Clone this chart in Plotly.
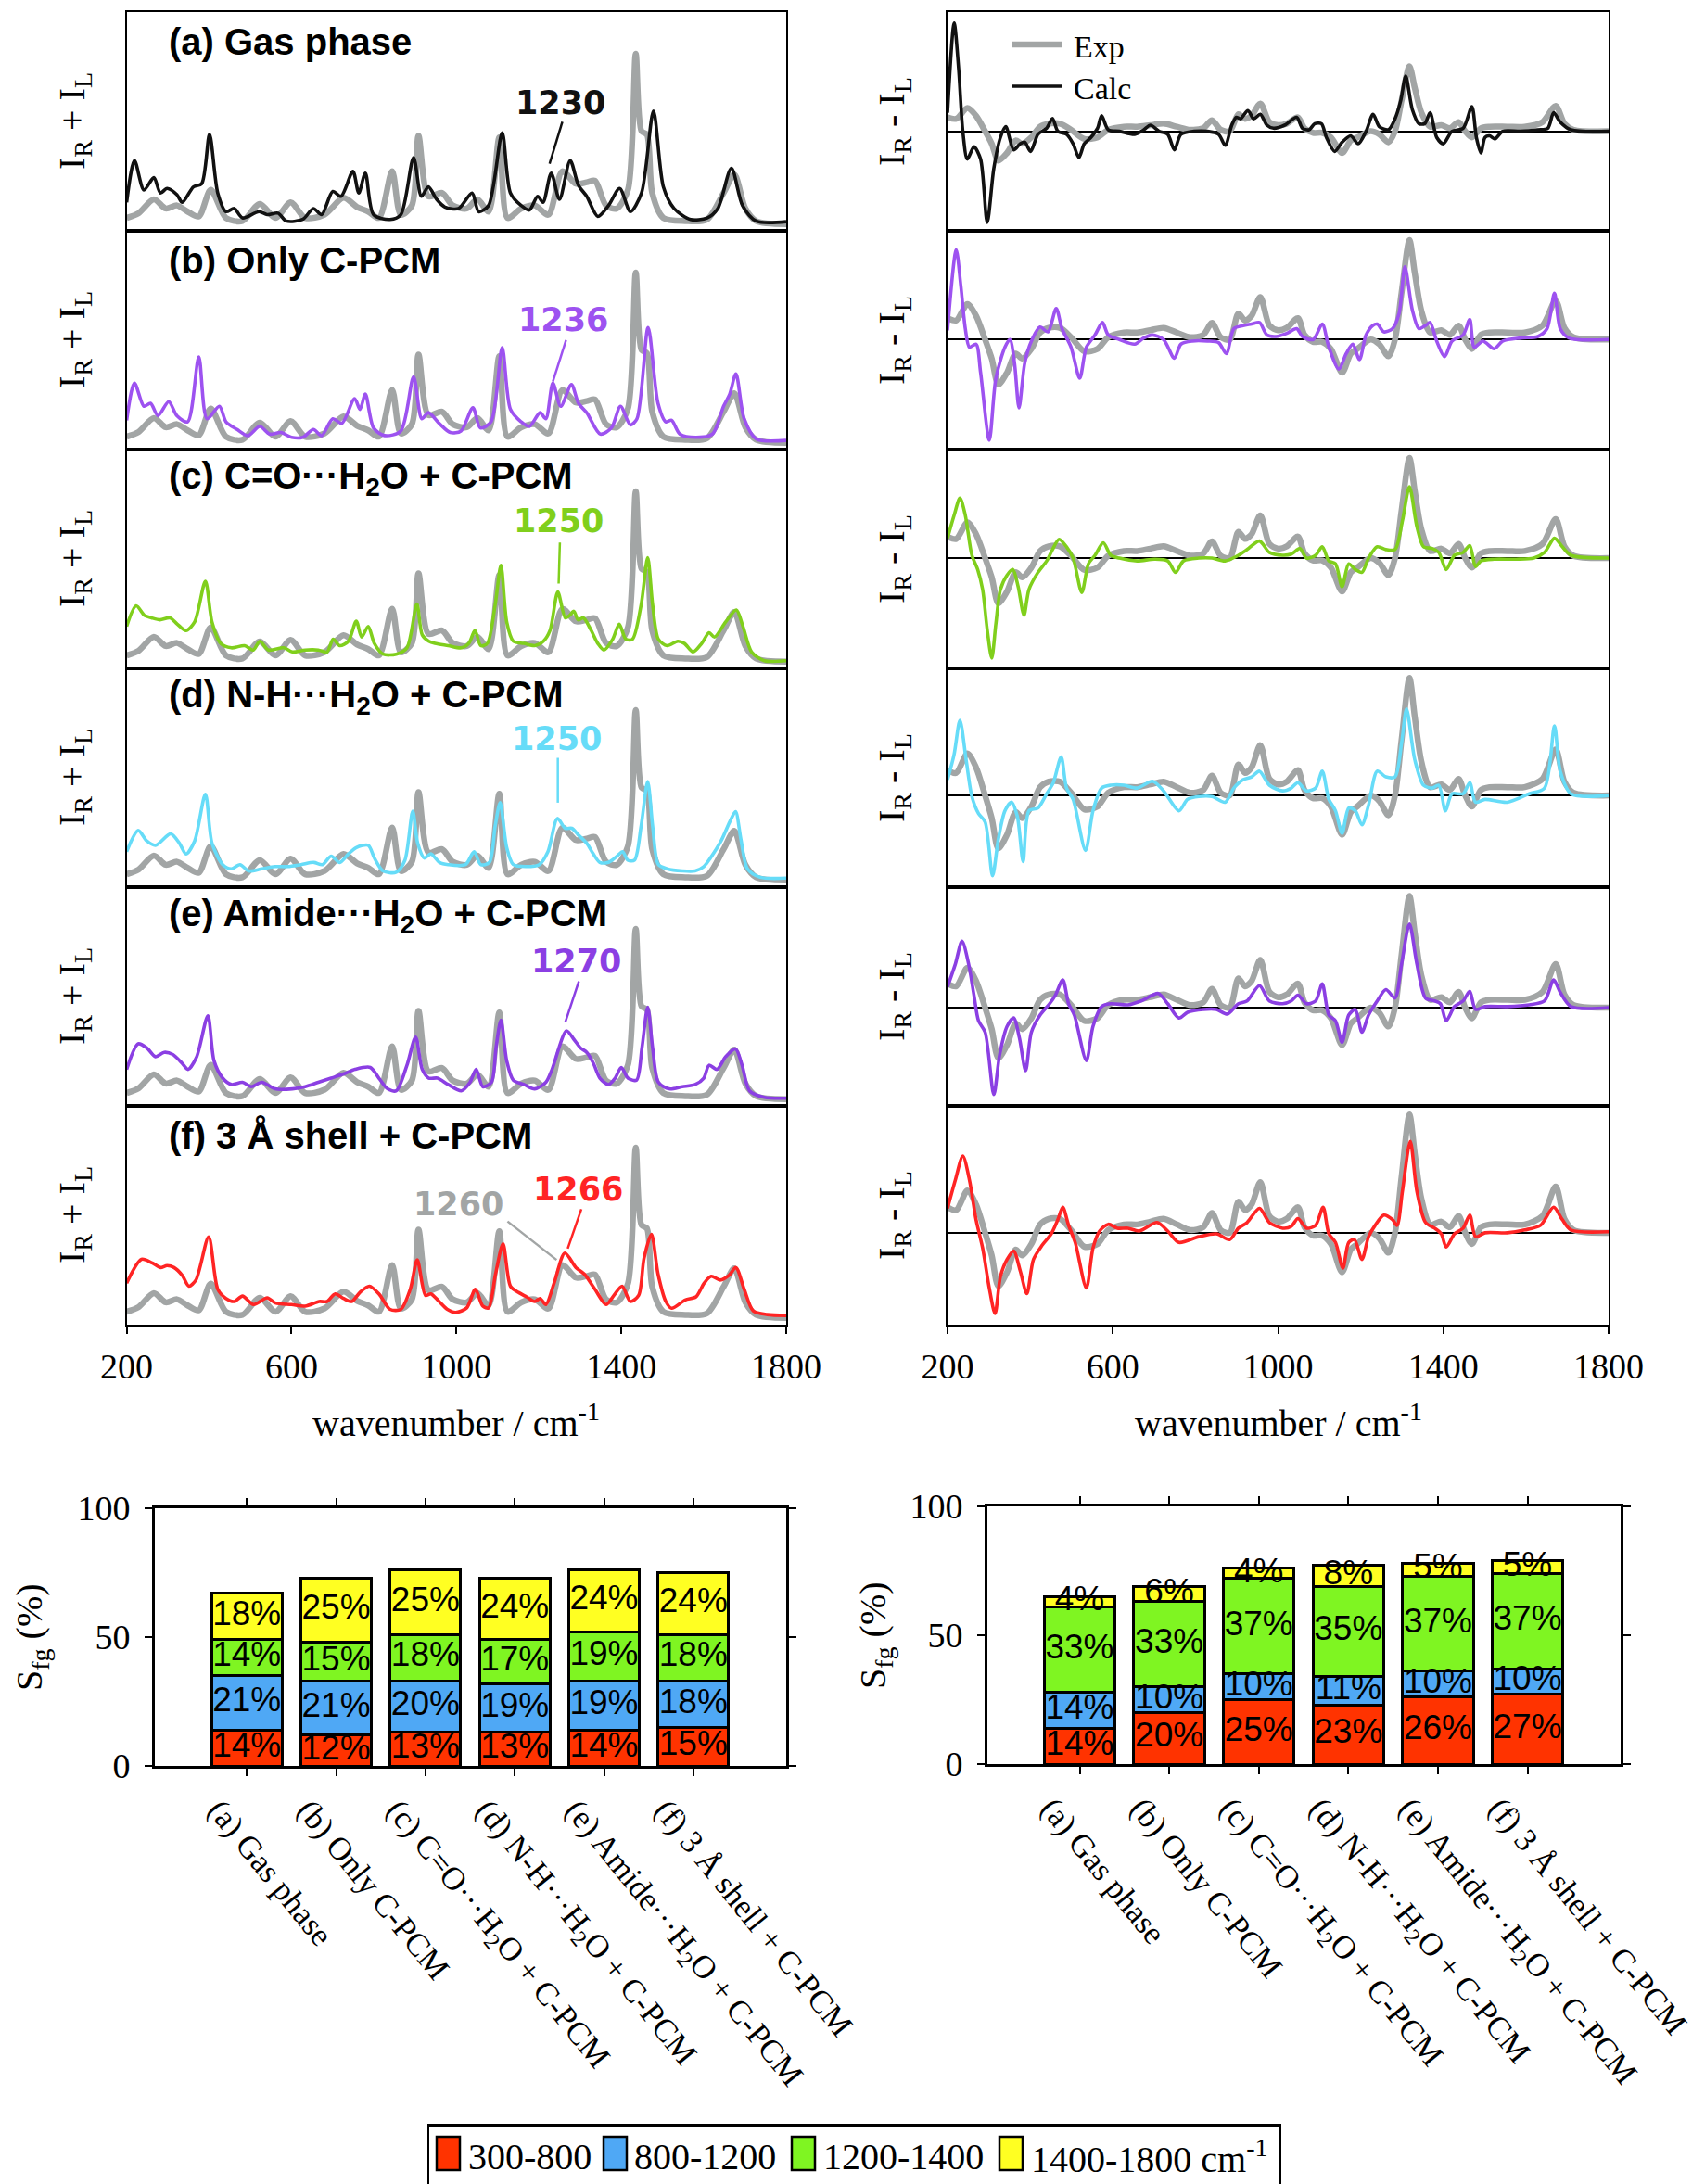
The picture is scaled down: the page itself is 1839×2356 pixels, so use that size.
import plotly.graph_objects as go

W, H = 1839, 2356

# ---------------- DATA ----------------
WAVENUMBER_TICKS = [200, 600, 1000, 1400, 1800]

# I_R + I_L, experimental (same in every left panel), (wavenumber, intensity a.u.)
EXP_SUM = [(200, 5.9), (229, 8.1), (266, 14.4), (295, 10.2), (322, 11.6), (348, 8.8), (375, 6.6),
           (404, 18.7), (441, 5.9), (481, 4.5), (523, 12.3), (561, 5.9), (598, 13.0), (633, 5.9),
           (680, 7.4), (726, 15.1), (759, 10.9), (786, 8.8), (812, 5.9), (844, 27.2),
           (865, 7.4), (892, 11.6), (908, 43.4), (932, 15.8), (965, 17.3),
           (991, 11.6), (1025, 10.2), (1051, 14.4), (1078, 8.8), (1104, 42.7),
           (1124, 5.9), (1157, 10.2), (1190, 11.6), (1223, 7.4), (1257, 27.2),
           (1290, 21.5), (1316, 22.2), (1336, 22.9), (1363, 11.6), (1389, 10.2), (1416, 18.7),
           (1435, 80.9), (1449, 45.5), (1462, 44.1), (1475, 17.3),
           (1502, 5.9), (1555, 4.5), (1608, 5.2), (1648, 17.3), (1674, 25.7), (1701, 10.2),
           (1727, 4.5), (1800, 3.1)]

CALC_SUM_A = [(200, 13.0), (219, 32.1), (242, 18.7), (266, 24.3), (282, 17.3), (298, 19.4), (322, 16.5),
              (335, 13.0), (362, 20.1), (382, 21.5), (401, 44.1), (421, 17.3), (441, 8.8), (461, 10.2),
              (481, 5.9), (521, 8.8), (541, 7.4), (567, 8.1), (587, 4.5), (627, 5.2), (653, 10.2),
              (673, 7.4), (700, 18.0), (720, 15.8), (749, 27.2), (763, 17.3), (779, 26.4), (799, 7.4),
              (839, 5.2), (865, 7.4), (896, 33.5), (915, 15.8), (932, 20.1), (952, 14.4), (972, 10.9),
              (1005, 10.2), (1038, 17.3), (1054, 8.8), (1078, 11.6), (1111, 44.8), (1131, 17.3),
              (1157, 11.6), (1177, 9.5), (1197, 15.8), (1210, 13.0), (1230, 26.4), (1250, 14.4),
              (1276, 32.1), (1296, 20.8), (1316, 15.8), (1343, 6.6), (1369, 11.6), (1396, 19.4),
              (1422, 8.8), (1449, 17.3), (1478, 54.7), (1502, 20.1), (1528, 10.2), (1568, 5.2),
              (1608, 5.9), (1634, 10.2), (1667, 28.6), (1694, 11.6), (1727, 4.5), (1800, 4.2)]

CALC_SUM_B = [(200, 13.4), (219, 30.4), (242, 19.8), (258, 21.2), (276, 15.5), (302, 21.9), (322, 15.5),
              (348, 12.7), (375, 42.4), (395, 14.1), (425, 19.8), (441, 12.7), (468, 9.2), (494, 6.4),
              (523, 10.6), (547, 7.1), (574, 7.8), (600, 5.6), (627, 5.6), (653, 9.2), (673, 6.4),
              (700, 14.1), (722, 12.0), (753, 23.3), (766, 18.4), (779, 25.4), (799, 9.9), (826, 6.4),
              (865, 8.5), (896, 33.2), (916, 14.1), (932, 16.9), (958, 12.0), (985, 7.8), (1011, 8.5),
              (1040, 19.1), (1058, 9.9), (1084, 12.7), (1111, 46.6), (1131, 18.4), (1157, 12.7),
              (1177, 10.6), (1203, 16.9), (1217, 14.1), (1234, 30.4), (1253, 19.8), (1279, 29.7),
              (1296, 21.2), (1316, 16.9), (1349, 7.1), (1376, 9.9), (1398, 19.8), (1422, 11.3),
              (1438, 14.1), (1465, 55.8), (1489, 21.2), (1508, 12.7), (1522, 13.4), (1542, 7.1),
              (1581, 5.6), (1621, 7.1), (1648, 19.8), (1663, 25.4), (1678, 34.6), (1698, 14.1),
              (1727, 4.9), (1800, 4.2)]

CALC_SUM_C = [(200, 19.2), (223, 28.6), (244, 24.1), (260, 23.1), (281, 22.2), (305, 23.1), (323, 20.2),
              (344, 17.3), (365, 21.2), (391, 39.8), (407, 21.2), (428, 11.4), (454, 9.4), (486, 10.4),
              (507, 8.4), (523, 12.4), (544, 8.4), (581, 9.4), (602, 7.5), (633, 8.4), (665, 8.4),
              (686, 7.5), (701, 13.3), (717, 10.4), (738, 12.4), (757, 21.6), (770, 14.3), (786, 19.2),
              (801, 11.4), (822, 6.5), (854, 6.5), (880, 9.4), (904, 29.4), (917, 15.3), (933, 12.4),
              (948, 11.4), (980, 10.4), (1012, 9.4), (1030, 11.4), (1045, 17.3), (1059, 10.4),
              (1075, 11.4), (1094, 29.0), (1108, 47.1), (1122, 21.2), (1138, 12.4), (1164, 11.4),
              (1190, 10.4), (1211, 12.4), (1227, 17.3), (1246, 34.9), (1264, 23.1), (1274, 24.1),
              (1285, 26.1), (1295, 22.2), (1308, 23.1), (1327, 17.3), (1343, 11.4), (1358, 8.4),
              (1379, 13.3), (1395, 20.2), (1411, 13.3), (1427, 13.3), (1448, 29.0), (1464, 50.6),
              (1476, 29.0), (1490, 13.3), (1511, 10.4), (1537, 12.4), (1553, 11.4), (1574, 7.5),
              (1595, 11.4), (1613, 16.3), (1626, 14.3), (1653, 21.2), (1679, 26.7), (1695, 19.2),
              (1716, 7.5), (1747, 3.5), (1800, 3.5)]

CALC_SUM_D = [(200, 16.2), (228, 25.9), (249, 21.1), (270, 19.1), (307, 24.4), (328, 20.1), (344, 15.2),
              (365, 21.1), (391, 42.5), (407, 20.1), (433, 10.3), (454, 8.4), (475, 10.3), (496, 7.4),
              (528, 8.4), (560, 9.4), (591, 9.4), (623, 10.3), (654, 11.3), (675, 10.3), (696, 14.2),
              (717, 11.3), (738, 15.2), (757, 18.1), (786, 19.1), (801, 13.3), (822, 7.4), (854, 6.8),
              (875, 12.3), (894, 34.7), (906, 20.1), (922, 13.3), (938, 15.2), (959, 11.3), (980, 10.3),
              (1022, 10.3), (1043, 16.2), (1059, 10.3), (1080, 11.3), (1094, 27.9), (1106, 38.6),
              (1122, 18.1), (1138, 10.3), (1169, 9.4), (1201, 10.3), (1222, 16.2), (1245, 31.4),
              (1264, 26.9), (1280, 26.9), (1295, 24.0), (1316, 20.1), (1332, 15.2), (1348, 11.3),
              (1369, 11.3), (1390, 14.2), (1403, 16.2), (1416, 12.3), (1432, 12.3), (1448, 27.9),
              (1464, 48.3), (1476, 27.9), (1490, 10.3), (1511, 8.4), (1548, 7.4), (1579, 7.4),
              (1600, 9.4), (1616, 13.3), (1642, 21.1), (1663, 29.8), (1677, 34.5), (1690, 22.0),
              (1706, 8.4), (1737, 4.5), (1800, 4.1)]

CALC_SUM_E = [(200, 16.7), (228, 28.4), (249, 26.5), (270, 22.5), (291, 24.5), (312, 23.5), (334, 19.6),
              (349, 16.7), (370, 22.5), (397, 41.2), (412, 20.6), (433, 12.7), (454, 9.8), (481, 10.8),
              (502, 8.8), (528, 10.8), (560, 7.8), (602, 7.8), (633, 8.8), (665, 10.8), (696, 12.7),
              (728, 14.7), (754, 16.7), (791, 17.6), (812, 12.7), (833, 7.8), (854, 6.9), (880, 18.6),
              (901, 31.4), (917, 16.7), (933, 12.7), (954, 12.7), (980, 9.8), (1012, 6.9), (1033, 10.8),
              (1048, 16.7), (1064, 8.8), (1085, 10.8), (1096, 26.5), (1108, 39.2), (1122, 20.6),
              (1138, 11.8), (1164, 9.8), (1190, 7.8), (1217, 10.8), (1232, 16.7), (1267, 34.3),
              (1285, 30.4), (1301, 26.5), (1316, 24.5), (1332, 19.6), (1348, 12.7), (1369, 9.8),
              (1385, 12.7), (1400, 17.6), (1416, 12.7), (1437, 11.8), (1450, 26.5), (1464, 45.1),
              (1476, 26.5), (1490, 10.8), (1516, 7.8), (1548, 8.8), (1579, 9.8), (1600, 12.7),
              (1613, 18.6), (1632, 16.7), (1653, 22.5), (1677, 26.1), (1693, 18.6), (1711, 6.9),
              (1747, 3.9), (1800, 3.5)]

CALC_SUM_F = [(200, 19.0), (236, 29.9), (262, 28.2), (282, 26.1), (298, 27.0), (315, 26.1), (335, 22.5),
              (351, 17.6), (368, 20.4), (399, 40.1), (421, 16.2), (441, 12.0), (461, 10.6), (481, 13.1),
              (508, 9.2), (541, 12.3), (561, 9.9), (600, 9.2), (633, 8.5), (667, 10.6), (686, 10.6),
              (706, 14.1), (726, 12.0), (746, 10.6), (766, 14.8), (789, 17.6), (812, 14.1), (839, 7.0),
              (865, 7.0), (888, 16.2), (905, 29.6), (925, 13.4), (938, 14.1), (958, 10.6), (978, 7.0),
              (998, 5.6), (1025, 7.7), (1046, 16.2), (1064, 8.5), (1078, 7.7), (1095, 23.2),
              (1113, 36.9), (1131, 17.6), (1150, 14.8), (1170, 12.7), (1190, 10.6), (1203, 12.0),
              (1217, 9.2), (1237, 19.0), (1263, 32.7), (1290, 26.1), (1310, 23.2), (1336, 16.2),
              (1363, 9.2), (1382, 13.4), (1402, 17.6), (1422, 10.6), (1442, 13.4), (1455, 30.3),
              (1473, 41.3), (1489, 23.2), (1508, 10.6), (1522, 7.5), (1555, 11.3), (1581, 12.7),
              (1601, 19.0), (1618, 22.1), (1640, 20.4), (1661, 22.5), (1678, 26.1), (1698, 16.2),
              (1720, 6.3), (1754, 4.6), (1800, 4.2)]

# I_R - I_L, experimental (panel (a) units) and its scaling in each panel
EXP_DIFF = [(200, 6.4), (221, 5.7), (248, 10.6), (269, 7.1), (291, 0.0), (307, -5.7), (323, -13.4),
            (344, -9.9), (365, -4.2), (381, -5.7), (403, -2.8), (424, 2.1), (445, 3.5), (472, 3.5),
            (499, 0.7), (531, -3.5), (563, -2.8), (589, 0.7), (627, 2.1), (659, 2.1), (691, 2.8),
            (723, 3.5), (755, 2.1), (787, 0.7), (819, 1.4), (840, 5.0), (861, 0.7), (883, 0.0),
            (904, 7.8), (920, 5.7), (936, 7.1), (957, 12.7), (979, 4.2), (1000, 2.8), (1021, 3.5),
            (1048, 6.4), (1064, 1.4), (1085, -0.7), (1107, -0.7), (1128, -2.8), (1155, -9.9),
            (1176, -4.2), (1192, -2.8), (1224, 0.0), (1245, -1.4), (1267, -5.0), (1283, 0.0),
            (1299, 14.1), (1318, 29.7), (1331, 19.8), (1347, 8.5), (1368, 2.1), (1395, 2.8),
            (1416, 1.4), (1437, 4.2), (1453, 0.0), (1469, -2.8), (1491, 1.4), (1512, 2.1),
            (1555, 2.1), (1597, 2.1), (1640, 4.2), (1672, 11.6), (1693, 3.5), (1715, 0.7), (1800, 0.0)]
EXP_DIFF_SCALE = [1.0, 1.53, 1.54, 1.81, 1.72, 1.82]

CALC_DIFF_A = [(200, 8.5), (216, 49.5), (227, 28.3), (237, 0.0), (248, -12.7), (264, -7.1), (280, -12.7),
               (296, -41.7), (312, -17.0), (328, -2.8), (341, 2.1), (360, -8.5), (376, -5.7), (387, -5.0),
               (401, -9.2), (419, -1.4), (440, 1.4), (454, 5.9), (467, 0.0), (488, -1.4), (504, -5.7),
               (518, -12.0), (531, -5.7), (547, -2.8), (563, 1.4), (573, 7.1), (589, 0.7), (616, 0.0),
               (653, -1.4), (675, 0.7), (691, 2.8), (712, 0.0), (733, -1.4), (749, -8.5), (765, -1.4),
               (797, 0.0), (829, 0.0), (856, -1.4), (872, -6.4), (888, 2.8), (899, 6.4), (909, 5.7),
               (927, 9.5), (941, 5.7), (957, 7.8), (973, 2.8), (989, 1.4), (1016, 2.8), (1045, 6.4),
               (1059, 1.4), (1075, 0.7), (1089, 3.5), (1105, 3.5), (1117, -2.8), (1137, -9.2),
               (1155, -5.0), (1176, -2.1), (1194, -5.7), (1213, 0.0), (1230, 7.8), (1245, 2.1),
               (1267, 0.7), (1283, 5.7), (1297, 14.1), (1309, 25.2), (1325, 9.9), (1341, 3.5),
               (1355, 3.5), (1368, 8.5), (1384, -2.8), (1400, -5.7), (1421, 0.0), (1448, 1.4),
               (1469, 11.3), (1480, -2.8), (1491, -9.9), (1501, -2.8), (1512, -2.1), (1525, -3.5),
               (1544, 0.0), (1587, 0.0), (1629, 0.7), (1653, 1.4), (1667, 8.5), (1683, 4.2),
               (1709, 0.7), (1800, 0.0)]

CALC_DIFF_B = [(200, 4.2), (221, 41.1), (232, 24.8), (243, 5.0), (253, -3.5), (269, -2.1), (280, -15.0),
               (301, -46.0), (317, -17.7), (339, -3.5), (351, 0.0), (362, -10.6), (373, -31.2),
               (387, -10.6), (403, -0.7), (424, 5.7), (443, 3.5), (463, 14.2), (477, 5.0), (499, -3.5),
               (520, -17.7), (536, -3.5), (557, 2.1), (575, 7.8), (589, 2.1), (616, 0.0), (653, -2.1),
               (675, 0.7), (696, 2.1), (723, 0.0), (749, -8.5), (765, -2.1), (792, -0.7), (829, -0.7),
               (856, -1.4), (875, -6.4), (893, 5.0), (915, 6.4), (936, 7.1), (955, 7.8), (973, 2.1),
               (995, 1.4), (1021, 2.8), (1045, 5.0), (1059, 1.4), (1085, 0.0), (1107, 7.1),
               (1123, -3.5), (1147, -13.5), (1165, -6.4), (1181, -2.1), (1197, -9.2), (1213, 2.1),
               (1229, 6.4), (1240, 7.1), (1256, 3.5), (1277, 5.0), (1293, 12.0), (1307, 33.3),
               (1325, 13.5), (1341, 5.0), (1357, 6.4), (1368, 7.8), (1384, -0.7), (1403, -7.8),
               (1421, -0.7), (1448, 2.1), (1464, 9.2), (1475, -3.5), (1496, -0.7), (1523, -4.2),
               (1544, -0.7), (1587, 0.7), (1629, 1.4), (1651, 5.0), (1669, 21.2), (1683, 5.0),
               (1704, 0.7), (1800, 0.0)]

CALC_DIFF_C = [(200, 9.1), (216, 19.6), (230, 27.4), (243, 19.6), (259, 1.3), (273, -5.2), (285, -14.4),
               (296, -32.6), (307, -45.7), (317, -30.0), (328, -14.4), (344, -7.8), (358, -5.2),
               (371, -13.1), (385, -26.1), (397, -14.4), (419, -6.5), (440, -1.3), (454, 3.9),
               (470, 8.6), (488, 5.2), (504, 0.0), (525, -15.7), (541, -2.6), (557, 1.3), (577, 7.0),
               (595, 1.3), (616, 0.0), (659, -1.3), (701, -0.5), (733, -1.3), (752, -6.5), (771, -1.3),
               (808, 0.0), (840, 0.0), (872, -1.3), (904, 1.3), (925, 3.9), (955, 7.8), (979, 2.6),
               (1011, 1.3), (1032, 1.8), (1053, 4.4), (1069, 0.0), (1091, 1.3), (1107, 5.2),
               (1123, -1.3), (1139, -2.6), (1155, -13.1), (1171, -2.6), (1187, -5.2), (1203, -6.5),
               (1219, 0.0), (1240, 5.2), (1261, 3.9), (1283, 3.9), (1301, 17.0), (1318, 32.6),
               (1336, 14.4), (1352, 5.2), (1373, 4.4), (1389, 2.6), (1407, -5.2), (1427, 1.3),
               (1448, 2.6), (1464, 5.7), (1478, -3.9), (1491, -1.3), (1523, -0.5), (1576, -0.5),
               (1619, 0.0), (1645, 2.6), (1669, 9.1), (1688, 5.2), (1709, 1.3), (1800, 0.0)]

CALC_DIFF_D = [(200, 7.2), (216, 18.9), (230, 34.4), (245, 16.3), (259, -0.5), (275, -8.3), (291, -12.1),
               (309, -36.7), (323, -19.9), (339, -7.0), (355, -3.1), (369, -9.6), (383, -30.2),
               (397, -7.0), (419, -5.7), (440, 0.8), (456, 5.9), (475, 17.6), (488, 3.4), (504, -1.8),
               (534, -25.1), (552, -7.0), (573, 3.4), (595, 4.7), (627, 4.7), (659, 3.4), (696, 6.5),
               (723, 2.1), (760, -7.0), (781, -1.8), (808, -0.5), (840, -0.5), (872, -3.1), (893, 3.4),
               (915, 7.2), (936, 8.5), (955, 11.1), (979, 4.7), (1011, 2.1), (1032, 3.4), (1048, 5.9),
               (1069, 2.1), (1091, 3.4), (1107, 11.1), (1123, -1.8), (1139, -7.0), (1155, -17.3),
               (1171, -5.7), (1187, -7.0), (1203, -13.4), (1219, -4.4), (1240, 11.1), (1261, 8.5),
               (1283, 8.5), (1299, 24.0), (1311, 39.5), (1331, 16.3), (1352, 4.7), (1373, 3.4),
               (1389, 4.7), (1405, -7.0), (1421, 0.8), (1448, 0.8), (1464, 5.9), (1478, -3.1),
               (1501, -1.8), (1555, -3.1), (1608, 0.8), (1645, 3.4), (1669, 31.8), (1683, 11.1),
               (1709, 0.8), (1800, 0.0)]

CALC_DIFF_E = [(200, 9.6), (219, 20.0), (235, 30.4), (251, 20.0), (264, 5.7), (275, -6.0), (291, -11.2),
               (312, -39.7), (326, -21.6), (344, -8.6), (360, -4.7), (374, -13.8), (389, -28.8),
               (403, -11.2), (424, -3.4), (447, 1.8), (461, 5.7), (479, 12.7), (493, 1.8), (507, -3.4),
               (536, -24.2), (552, -8.6), (573, 0.5), (595, 1.8), (637, 1.3), (669, 3.1), (710, 6.5),
               (733, 1.8), (760, -4.7), (781, -2.1), (819, -0.8), (851, -0.8), (877, -2.9), (904, 1.8),
               (925, 3.1), (955, 10.1), (979, 3.1), (1011, 1.8), (1032, 3.1), (1048, 5.7), (1069, 1.8),
               (1091, 3.1), (1107, 10.9), (1123, -3.4), (1139, -6.0), (1155, -15.8), (1171, -3.4),
               (1187, -0.8), (1203, -11.2), (1219, -3.4), (1240, 3.1), (1261, 8.3), (1283, 4.4),
               (1299, 20.0), (1318, 38.2), (1336, 20.0), (1357, 4.4), (1379, 3.1), (1393, 1.8),
               (1407, -6.0), (1427, 0.5), (1448, 3.1), (1464, 7.5), (1478, -0.8), (1501, 0.5),
               (1555, 0.5), (1608, 1.3), (1645, 3.1), (1667, 12.7), (1683, 7.0), (1709, 0.5), (1800, 0.0)]

CALC_DIFF_F = [(200, 11.2), (219, 24.2), (237, 35.1), (253, 24.2), (269, 6.0), (285, -7.0), (301, -25.2),
               (315, -36.9), (328, -20.0), (344, -12.2), (360, -8.3), (376, -17.4), (392, -27.8),
               (408, -12.2), (429, -5.7), (451, -0.5), (467, 6.0), (479, 11.7), (493, 3.4), (509, -4.4),
               (536, -25.2), (552, -7.0), (568, 0.8), (589, 3.9), (611, 2.1), (637, 2.1), (664, 0.8),
               (707, 4.7), (733, 0.8), (760, -4.4), (808, -1.8), (851, -0.5), (883, -3.1), (904, 2.1),
               (925, 4.7), (955, 11.2), (979, 4.7), (1011, 2.1), (1032, 2.9), (1048, 6.5), (1069, 2.1),
               (1091, 3.4), (1109, 11.7), (1123, -0.5), (1139, -4.4), (1157, -16.1), (1171, -4.4),
               (1185, -3.1), (1203, -12.2), (1219, -1.8), (1235, 3.4), (1256, 8.1), (1277, 6.0),
               (1288, 3.4), (1301, 19.0), (1320, 41.8), (1336, 19.0), (1357, 4.7), (1379, 2.1),
               (1395, -0.5), (1407, -6.5), (1427, -0.5), (1448, 2.1), (1464, 8.1), (1478, -1.8),
               (1501, 0.0), (1555, 0.0), (1597, 1.3), (1635, 3.4), (1667, 11.7), (1688, 6.0),
               (1709, 1.3), (1800, 0.5)]

CALC_SUM = [CALC_SUM_A, CALC_SUM_B, CALC_SUM_C, CALC_SUM_D, CALC_SUM_E, CALC_SUM_F]
CALC_DIFF = [CALC_DIFF_A, CALC_DIFF_B, CALC_DIFF_C, CALC_DIFF_D, CALC_DIFF_E, CALC_DIFF_F]

PANEL_TITLES = ['(a) Gas phase', '(b) Only C-PCM',
                '(c) C=O\u00b7\u00b7\u00b7H<sub>2</sub>O + C-PCM',
                '(d) N-H\u00b7\u00b7\u00b7H<sub>2</sub>O + C-PCM',
                '(e) Amide\u00b7\u00b7\u00b7H<sub>2</sub>O + C-PCM',
                '(f) 3 \u00c5 shell + C-PCM']

# peak labels: panel, text, colour index (-1 = exp grey), label (x, y), pointer line (x0, y0, x1, y1)
PEAK_LABELS = [(0, '1230', 0, 1253, 58.5, 1257, 49.8, 1226, 30.7),
               (1, '1236', 1, 1260, 59.3, 1266, 50.1, 1234, 31.1),
               (2, '1250', 2, 1248, 67.3, 1251, 57.5, 1248, 38.8),
               (3, '1250', 3, 1243, 67.8, 1246, 59.1, 1246, 38.6),
               (4, '1270', 4, 1290, 66.1, 1297, 56.9, 1264, 38.2),
               (5, '1266', 5, 1296, 62.0, 1303, 52.8, 1270, 34.8),
               (5, '1260', -1, 1005, 54.9, 1124, 47.2, 1243, 29.6)]

BAR_KEYS = ['a', 'b', 'c', 'd', 'e', 'f']
BAR_TICKTEXT = ['(a) Gas phase', '(b) Only C-PCM',
                '(c) C=O\u00b7\u00b7\u00b7H<sub>2</sub>O + C-PCM',
                '(d) N-H\u00b7\u00b7\u00b7H<sub>2</sub>O + C-PCM',
                '(e) Amide\u00b7\u00b7\u00b7H<sub>2</sub>O + C-PCM',
                '(f) 3 \u00c5 shell + C-PCM']
BANDS = ['300-800', '800-1200', '1200-1400', '1400-1800']
SFG_SUM = [[14, 12, 13, 13, 14, 15],
           [21, 21, 20, 19, 19, 18],
           [14, 15, 18, 17, 19, 18],
           [18, 25, 25, 24, 24, 24]]
SFG_DIFF = [[14, 20, 25, 23, 26, 27],
            [14, 10, 10, 11, 10, 10],
            [33, 33, 37, 35, 37, 37],
            [4, 6, 4, 8, 5, 5]]

# ---------------- STYLE ----------------
SERIF = 'Liberation Serif, Times New Roman, serif'
SANS = 'Liberation Sans, Arial, sans-serif'
VERD = 'DejaVu Sans, Verdana, sans-serif'
EXP_GREY = '#a2a5a5'
CALC_COLORS = ['#111111', '#9d52f0', '#80cf1c', '#66dcf8', '#8b3fe3', '#ff2424']
BAND_COLORS = ['#ff3300', '#4fa8f5', '#7ff522', '#ffff22']

LEFT_X = (128.6, 840.0)
RIGHT_X = (1014.0, 1727.0)
PANEL_TOP = 5.0
PANEL_H = 236.0
ZERO_FRAC = [0.455, 0.503, 0.504, 0.419, 0.449, 0.420]


def pxx(p):
    return p / W


def pxy(p):
    return 1 - p / H


def axname(n):
    return ('xaxis', 'yaxis') if n == 1 else (f'xaxis{n}', f'yaxis{n}')


def axref(n):
    return ('x', 'y') if n == 1 else (f'x{n}', f'y{n}')


fig = go.Figure()
layout = dict(width=W, height=H, autosize=False, margin=dict(l=0, r=0, t=0, b=0, pad=0, autoexpand=False),
              paper_bgcolor='white', plot_bgcolor='white', showlegend=False, barmode='stack')
annotations = []
shapes = []

for i in range(6):
    top = PANEL_TOP + i * PANEL_H
    bot = top + PANEL_H
    ydom = [pxy(bot), pxy(top)]
    for side, (x0, x1), n in (('L', LEFT_X, i + 1), ('R', RIGHT_X, i + 7)):
        xn, yn = axname(n)
        xr, yr = axref(n)
        xa = dict(domain=[pxx(x0), pxx(x1)], range=[200, 1800], anchor=yr, showline=True, mirror=True,
                  linecolor='black', linewidth=2, showgrid=False, zeroline=False, ticks='',
                  showticklabels=False, automargin=False)
        if i == 5:
            xa.update(tickvals=WAVENUMBER_TICKS, ticks='outside', ticklen=8, tickwidth=2, tickcolor='black',
                      showticklabels=True, tickfont=dict(family=SERIF, size=38, color='black'),
                      ticklabelstandoff=2)
        if side == 'L':
            yrange = [0, 100]
        else:
            z = ZERO_FRAC[i] * 100
            yrange = [-z, 100 - z]
        ya = dict(domain=ydom, anchor=xr, range=yrange, showline=True, mirror=True, linecolor='black',
                  linewidth=2, showgrid=False, showticklabels=False, ticks='', automargin=False,
                  zeroline=(side == 'R'), zerolinecolor='black', zerolinewidth=2)
        layout[xn] = xa
        layout[yn] = ya

        if side == 'L':
            ex = [p[0] for p in EXP_SUM]
            ey = [p[1] for p in EXP_SUM]
            cx = [p[0] for p in CALC_SUM[i]]
            cy = [p[1] for p in CALC_SUM[i]]
            lab = 'I<sub>R</sub> + I<sub>L</sub>'
            labx = 72
        else:
            ex = [p[0] for p in EXP_DIFF]
            ey = [p[1] * EXP_DIFF_SCALE[i] for p in EXP_DIFF]
            cx = [p[0] for p in CALC_DIFF[i]]
            cy = [p[1] for p in CALC_DIFF[i]]
            lab = 'I<sub>R</sub> - I<sub>L</sub>'
            labx = 956
        fig.add_trace(go.Scatter(x=ex, y=ey, mode='lines', xaxis=xr, yaxis=yr, name='Exp',
                                 line=dict(color=EXP_GREY, width=6.5, shape='spline', smoothing=0.8)))
        fig.add_trace(go.Scatter(x=cx, y=cy, mode='lines', xaxis=xr, yaxis=yr, name='Calc',
                                 line=dict(color=CALC_COLORS[i], width=3.6, shape='spline', smoothing=0.8)))
        annotations.append(dict(text=lab, xref='paper', yref='paper', x=pxx(labx),
                                y=pxy((top + bot) / 2), xanchor='center', yanchor='middle',
                                textangle=-90, showarrow=False,
                                font=dict(family=SERIF, size=40, color='black')))

    # panel title (left)
    annotations.append(dict(text='<b>' + PANEL_TITLES[i] + '</b>', xref='paper', yref='paper',
                            x=pxx(172), y=pxy(top + (4 if i in (2, 3, 4) else 8)),
                            xanchor='left', yanchor='top', showarrow=False,
                            font=dict(family=SANS, size=40, color='black')))

# x-axis titles
for cxp in ((LEFT_X[0] + LEFT_X[1]) / 2, (RIGHT_X[0] + RIGHT_X[1]) / 2):
    annotations.append(dict(text='wavenumber / cm<sup>-1</sup>', xref='paper', yref='paper',
                            x=pxx(cxp), y=pxy(1524), xanchor='center', yanchor='middle', showarrow=False,
                            font=dict(family=SERIF, size=40, color='black')))

# peak labels
for (p, txt, ci, tx, ty, lx0, ly0, lx1, ly1) in PEAK_LABELS:
    xr, yr = axref(p + 1)
    col = EXP_GREY if ci < 0 else CALC_COLORS[ci]
    annotations.append(dict(text='<b>' + txt + '</b>', xref=xr, yref=yr, x=tx, y=ty, showarrow=False,
                            xanchor='center', yanchor='middle',
                            font=dict(family=VERD, size=35, color=col)))
    shapes.append(dict(type='line', xref=xr, yref=yr, x0=lx0, y0=ly0, x1=lx1, y1=ly1,
                       line=dict(color=col, width=2.5)))

# Exp / Calc key in right panel (a)
for (txt, col, wdt, yy) in (('Exp', EXP_GREY, 6.5, 40), ('Calc', '#111111', 3.6, 85)):
    shapes.append(dict(type='line', xref='paper', yref='paper', x0=pxx(1083), x1=pxx(1138),
                       y0=pxy(yy), y1=pxy(yy), line=dict(color=col, width=wdt)))
    annotations.append(dict(text=txt, xref='paper', yref='paper', x=pxx(1148), y=pxy(yy + 2),
                            xanchor='left', yanchor='middle', showarrow=False,
                            font=dict(family=SERIF, size=34, color='black')))

# ---------------- BAR CHARTS ----------------
BAR_GEOM = [(13, SFG_SUM, (159, 840), (1619, 1897), 26),
            (14, SFG_DIFF, (1057, 1740), (1617, 1895), 936)]
for n, data, (bx0, bx1), (by0, by1), titx in BAR_GEOM:
    xn, yn = axname(n)
    xr, yr = axref(n)
    layout[xn] = dict(domain=[pxx(bx0), pxx(bx1)], anchor=yr, type='category', categoryorder='array',
                      categoryarray=BAR_KEYS, range=[-1.03, 6.04], tickvals=BAR_KEYS, ticktext=BAR_TICKTEXT,
                      tickangle=51, ticks='outside', ticklen=8, tickwidth=2, tickcolor='black',
                      showline=True, mirror='ticks', linecolor='black', linewidth=3, showgrid=False,
                      zeroline=False, tickfont=dict(family=SERIF, size=35, color='black'),
                      ticklabelstandoff=2, ticklabelshift=-30, automargin=False)
    layout[yn] = dict(domain=[pxy(by1), pxy(by0)], anchor=xr, range=[0, 100], tickvals=[0, 50, 100],
                      ticks='outside', ticklen=8, tickwidth=2, tickcolor='black', showline=True,
                      mirror='ticks', linecolor='black', linewidth=3, showgrid=False, zeroline=False,
                      tickfont=dict(family=SERIF, size=38, color='black'), ticklabelstandoff=8,
                      automargin=False)
    base = [0] * len(BAR_KEYS)
    tx, ty, tt = [], [], []
    for j, band in enumerate(BANDS):
        vals = data[j]
        fig.add_trace(go.Bar(x=BAR_KEYS, y=vals, name=band, xaxis=xr, yaxis=yr, width=0.79,
                             marker=dict(color=BAND_COLORS[j], line=dict(color='black', width=3))))
        for k, v in enumerate(vals):
            tx.append(BAR_KEYS[k])
            ty.append(base[k] + v / 2)
            tt.append(f'{v}%')
            base[k] += v
    fig.add_trace(go.Scatter(x=tx, y=ty, text=tt, mode='text', xaxis=xr, yaxis=yr, cliponaxis=False,
                             textposition='middle center',
                             textfont=dict(family=SANS, size=37, color='black'), hoverinfo='skip'))
    annotations.append(dict(text='S<sub>fg</sub> (%)', xref='paper', yref='paper', x=pxx(titx),
                            y=pxy((by0 + by1) / 2), textangle=-90, showarrow=False,
                            xanchor='center', yanchor='middle',
                            font=dict(family=SERIF, size=40, color='black')))

# ---------------- BAND KEY ----------------
shapes.append(dict(type='rect', xref='paper', yref='paper', x0=pxx(454), x1=pxx(1373), y0=pxy(2351),
                   y1=pxy(2284), line=dict(color='black', width=2), fillcolor='white', layer='below'))
for yy in (2285, 2350):
    shapes.append(dict(type='line', xref='paper', yref='paper', x0=pxx(454), x1=pxx(1373), y0=pxy(yy),
                       y1=pxy(yy), line=dict(color='black', width=4)))
KEY_X = [(463, 495), (643, 674), (846, 878), (1070, 1102)]
for j, band in enumerate(BANDS):
    sx, tx0 = KEY_X[j]
    shapes.append(dict(type='rect', xref='paper', yref='paper', x0=pxx(sx), x1=pxx(sx + 25),
                       y0=pxy(2333), y1=pxy(2297), fillcolor=BAND_COLORS[j],
                       line=dict(color='black', width=2.5)))
    label = band + (' cm<sup>-1</sup>' if j == 3 else '')
    annotations.append(dict(text=label, xref='paper', yref='paper', x=pxx(tx0), y=pxy(2318),
                            xanchor='left', yanchor='middle', showarrow=False,
                            font=dict(family=SERIF, size=40, color='black')))

layout['annotations'] = annotations
layout['shapes'] = shapes
fig.update_layout(**layout)
fig.write_html('out.html')
